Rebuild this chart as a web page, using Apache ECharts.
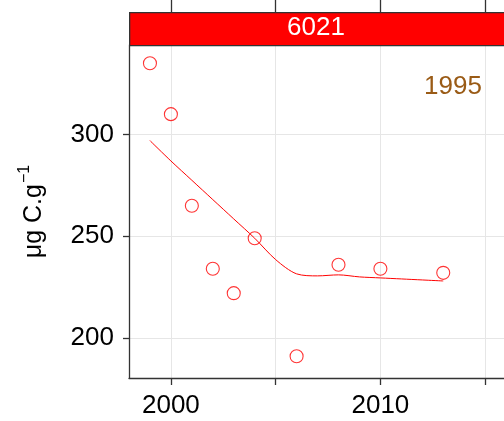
<!DOCTYPE html>
<html>
<head>
<meta charset="utf-8">
<script src="https://cdn.jsdelivr.net/npm/echarts@6/dist/echarts.min.js"></script>
<style>
    html, body { margin: 0; padding: 0; background: #fff; }
    #chart { width: 504px; height: 421px; }
</style>
</head>
<body>
<div id="chart"></div>
<script>
    // observed points
    const years = [1999, 2000, 2001, 2002, 2003, 2004, 2006, 2008, 2010, 2013];
    const values = [335, 310, 265, 234, 222, 249, 191, 236, 234, 232];
    // smoothed trend line
    const fitYears = [1999, 2000, 2001, 2002, 2003, 2004, 2005, 2006, 2007, 2008, 2009, 2010, 2011, 2012, 2013];
    const fitValues = [297, 287, 277.5, 268, 258.5, 249, 238.5, 231.5, 230.5, 231, 230, 229.5, 229, 228.5, 228];
    const xTicks = [2000, 2005, 2010, 2015];
    const xLabels = [2000, 2010];
    const yTicks = [200, 250, 300];
    const stripLabel = '6021';
    const cornerLabel = '1995';

    const font = 'Liberation Sans, Arial, sans-serif';
    let myChart = echarts.init(document.getElementById('chart'));
    myChart.setOption({
        animation: false,
        grid: {
            left: 129,
            right: 0,
            top: 45,
            bottom: 43
        },
        xAxis: [{
            type: 'value',
            min: 1998,
            max: 2015.9,
            axisLine: { lineStyle: { color: '#333', width: 1.3 } },
            axisTick: { customValues: xTicks, length: 7, lineStyle: { color: '#333', width: 1.3 } },
            axisLabel: {
                customValues: xLabels,
                formatter: v => String(v),
                color: '#000',
                fontSize: 26,
                fontFamily: font,
                margin: 15
            },
            splitLine: { show: true, lineStyle: { color: '#e6e6e6' } }
        }, {
            // ticks of the panel above, cut by the picture edge
            type: 'value',
            position: 'top',
            offset: 33,
            min: 1998,
            max: 2015.9,
            axisLine: { show: false },
            axisTick: { customValues: xTicks, length: 12, lineStyle: { color: '#333', width: 1.3 } },
            axisLabel: { show: false },
            splitLine: { show: false }
        }],
        yAxis: {
            type: 'value',
            min: 180.3,
            max: 344,
            name: 'μg C.g{sup|−1}',
            nameLocation: 'middle',
            nameRotate: 90,
            nameGap: 78,
            nameTextStyle: {
                color: '#000',
                fontSize: 25,
                fontFamily: font,
                rich: {
                    sup: { fontSize: 16, fontFamily: font, color: '#000', verticalAlign: 'top', padding: [0, 0, 18, 1] }
                }
            },
            axisLine: { show: true, lineStyle: { color: '#333', width: 1.3 } },
            axisTick: { show: true, customValues: yTicks, length: 6, lineStyle: { color: '#333', width: 1.3 } },
            axisLabel: { customValues: yTicks, color: '#000', fontSize: 26, fontFamily: font, margin: 15 },
            splitLine: { show: true, lineStyle: { color: '#e6e6e6' } }
        },
        graphic: [{
            type: 'rect',
            left: 129,
            top: 12,
            shape: { width: 380, height: 33 },
            style: { fill: '#ff0000', stroke: '#333', lineWidth: 1.3 },
            z: 10
        }, {
            type: 'text',
            left: 287,
            top: 15,
            style: { text: stripLabel, fill: '#fff', font: '26px ' + font },
            z: 11
        }, {
            type: 'text',
            left: 424,
            top: 74,
            style: { text: cornerLabel, fill: '#9a5b16', font: '26px ' + font },
            z: 11
        }],
        series: [{
            name: 'trend',
            type: 'line',
            data: fitYears.map((y, i) => [y, fitValues[i]]),
            smooth: 0.3,
            symbol: 'none',
            lineStyle: { color: '#ff0000', width: 1 }
        }, {
            name: 'obs',
            type: 'scatter',
            data: years.map((y, i) => [y, values[i]]),
            symbol: 'circle',
            symbolSize: 13,
            itemStyle: { color: 'rgba(0,0,0,0)', borderColor: '#ff0000', borderWidth: 1.1 }
        }]
    });
</script>
</body>
</html>
